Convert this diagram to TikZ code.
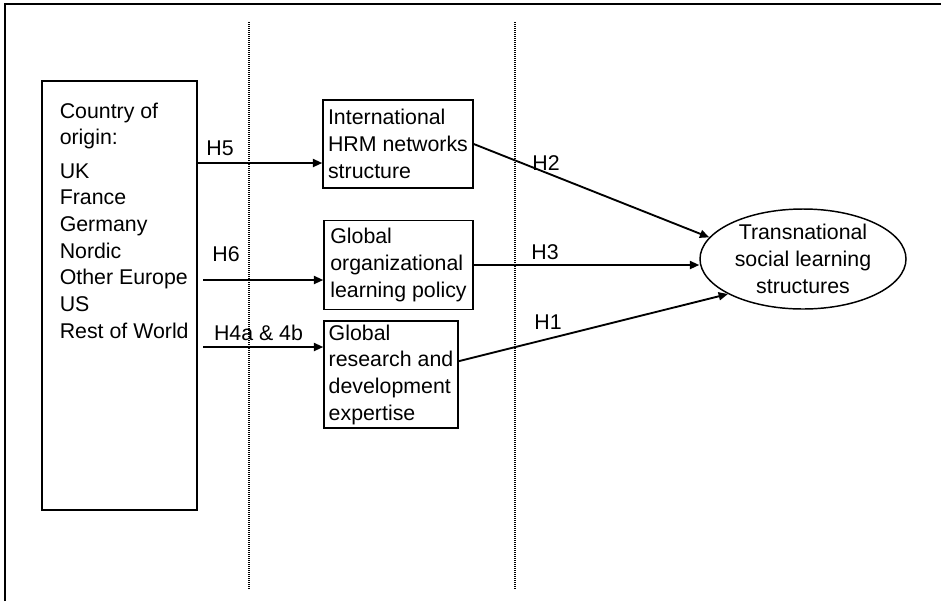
\documentclass[tikz,border=0pt]{standalone}
\usepackage{fontspec}
\setmainfont{Liberation Sans}
\usetikzlibrary{arrows.meta,shapes.geometric}
\begin{document}
\begin{tikzpicture}[x=0.75pt,y=-0.75pt,
	font=\fontsize{16}{20}\selectfont,
	box/.style={draw,line width=1.1pt,inner sep=0pt,align=left},
	link/.style={line width=1.4pt,-{Triangle[length=7pt,width=6pt]}},
	hyp/.style={inner sep=0pt},
	divider/.style={line width=0.9pt,dash pattern=on 0.75pt off 0.75pt}]
	\useasboundingbox (0,0) rectangle (941,601);
	\draw[line width=1.2pt] (5,601)--(5,4)--(941,4);
	\draw[divider] (249,22)--(249,590);
	\draw[divider] (515,22)--(515,590);
	\node[box,minimum width=116.25pt,minimum height=321.75pt](origin) at (119.5,295.5){};
	\node[anchor=north west,inner sep=0pt,align=left](countries) at (59.5,102.5){Country of\\origin:\\[5pt]UK\\France\\Germany\\Nordic\\Other Europe\\US\\Rest of World};
	\node[box,minimum width=112.5pt,minimum height=66pt](hrm) at (398,144){International\\HRM networks\\structure};
	\node[box,minimum width=111.75pt,minimum height=66.75pt](policy) at (398.5,265){Global\\organizational\\learning policy};
	\node[box,minimum width=100.5pt,minimum height=80.25pt](rd) at (391,374.5){Global\\research and\\development\\expertise};
	\node[draw,ellipse,line width=1.1pt,inner sep=0pt,align=center,minimum width=154.5pt,minimum height=75pt](tsl) at (803,259){Transnational\\social learning\\structures};
	\coordinate (h5end) at ([yshift=-14.25pt]hrm.west);
	\coordinate (h6start) at (203,280);
	\coordinate (h4start) at (203,347);
	\draw[link] (origin.east |- h5end)--(h5end);
	\draw[link] (h6start)--(h6start -| policy.west);
	\draw[link] (h4start)--(h4start -| rd.west);
	\draw[link] (hrm.east)--(tsl.167);
	\draw[link] (policy.east)--(policy.east -| tsl.west);
	\draw[link] ([yshift=10pt]rd.east)--(tsl.205);
	\node[hyp](lh5) at (220,148){H5};
	\node[hyp](lh6) at (226,254){H6};
	\node[hyp](lh4) at (258.5,333){H4a \& 4b};
	\node[hyp](lh2) at (546,163){H2};
	\node[hyp](lh3) at (545,252){H3};
	\node[hyp](lh1) at (548,322){H1};
\end{tikzpicture}
\end{document}
